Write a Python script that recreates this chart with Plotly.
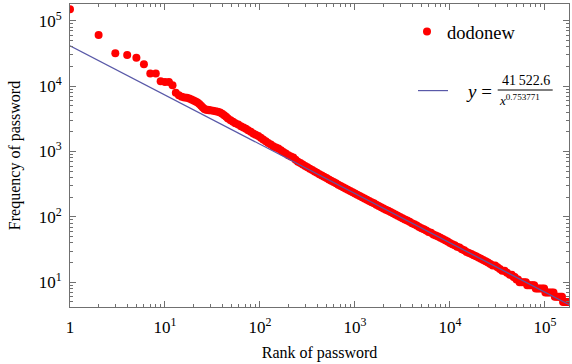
import plotly.graph_objects as go

# ---------------- data ----------------
ranks = [1, 2, 3, 4, 5, 6, 7, 8, 9, 10, 11, 12,
         13, 14, 15, 16, 17, 18, 19, 20, 21, 22, 23, 24, 25, 26, 27, 28, 29, 30,
         32, 34, 36, 38, 40, 42, 44, 46, 49, 52, 55, 59, 63, 67, 71, 75, 80, 85, 90, 96,
         102, 108, 115, 122, 130, 138, 147, 156, 166, 176, 187, 199, 211,
         224, 237, 251, 266, 282, 299, 316, 335, 355, 376, 398, 422, 447, 473, 501, 531,
         562, 596, 631, 668, 708, 750, 794, 841, 891, 944,
         1000, 1059, 1122, 1189, 1259, 1334, 1413, 1496, 1585, 1679, 1778, 1884, 1995, 2113,
         2239, 2371, 2512, 2661, 2818, 2985, 3162, 3350, 3548, 3758, 3981, 4217, 4467, 4732,
         5012, 5309, 5623, 5957, 6310, 6683, 7079, 7499, 7943, 8414, 8913, 9441,
         10000, 10593, 11220, 11885, 12589, 13335, 14125, 14962, 15849, 16788, 17783, 18836,
         19953, 21135, 22387, 23714, 25119, 26607, 28184, 29854, 31623, 33497, 35481, 37584,
         39811, 42658, 44668, 46774, 48000, 50119, 52000,
         54000, 57000, 60000, 63000,
         65000, 68000, 71000, 74000, 77000,
         80000, 84000, 88000, 93000, 98000,
         101000, 106000, 111000, 117000, 123000,
         127000, 133000, 139000, 145000, 151000,
         155000, 162000, 169000, 176000, 183000]
frequencies = [149600, 60400, 31700, 29800, 27100, 21700, 15600, 15600, 11900, 11600, 11600, 10300,
               7900, 7280, 6860, 6710, 6620, 6480, 6260, 6040, 5830, 5620, 5350, 5030, 4720, 4450, 4370, 4340, 4290, 4260,
               4190, 4140, 4070, 3950, 3790, 3590, 3400, 3200, 3010, 2840, 2710, 2590, 2440, 2330, 2220, 2120, 2000, 1890, 1800, 1720,
               1620, 1530, 1440, 1350, 1280, 1200, 1150, 1110, 1050, 986, 930, 878, 840,
               809, 750, 700, 668, 635, 603, 575, 546, 520, 495, 472, 450, 430, 410, 392, 374,
               357, 341, 326, 311, 297, 284, 272, 260, 249, 238,
               228, 218, 209, 200, 191, 183, 175, 168, 161, 154, 147, 141, 135, 129,
               124, 119, 114, 109, 104, 100, 95, 91, 88, 84, 80, 77, 74, 70,
               67, 65, 62, 59, 57, 54, 52, 50, 48, 46, 44, 42,
               40, 38, 37, 35, 34, 32, 31, 29, 28, 27, 26, 25,
               24, 23, 22, 21, 20, 19, 18, 18, 17, 16, 15, 15,
               14, 13, 13, 12, 12, 11, 11,
               10, 10, 10, 10,
               9, 9, 9, 9, 9,
               8, 8, 8, 8, 8,
               7, 7, 7, 7, 7,
               6, 6, 6, 6, 6,
               5, 5, 5, 5, 5]

fit_coefficient = 41522.6
fit_exponent = 0.753771
fit_x = [1, 200000]

x_tick_vals = [1, 10, 100, 1000, 10000, 100000]
x_tick_text = ["1", "10<sup>1</sup>", "10<sup>2</sup>", "10<sup>3</sup>", "10<sup>4</sup>", "10<sup>5</sup>"]
y_tick_vals = [10, 100, 1000, 10000, 100000]
y_tick_text = ["10<sup>1</sup>", "10<sup>2</sup>", "10<sup>3</sup>", "10<sup>4</sup>", "10<sup>5</sup>"]

series_name = "dodonew"
x_title = "Rank of password"
y_title = "Frequency of password"

# ---------------- figure ----------------
W, H = 572, 364
ML, MR, MT, MB = 70, 3, 4, 57
FONT = "Liberation Serif"
AXIS_GREY = "#707070"
LINE_BLUE = "#5959a8"


def px_x(p):
    return (p - ML) / (W - ML - MR)


def px_y(p):
    return (H - MB - p) / (H - MT - MB)


fit_y = [fit_coefficient / (v ** fit_exponent) for v in fit_x]

fig = go.Figure()
fig.add_trace(go.Scatter(
    x=ranks, y=frequencies, mode="markers", name=series_name,
    marker=dict(color="#ff0000", size=8, line=dict(width=0)),
    legend="legend",
))
fig.add_trace(go.Scatter(
    x=fit_x, y=fit_y, mode="lines", name=" ",
    line=dict(color=LINE_BLUE, width=1.2),
    legend="legend2",
))

axis_common = dict(
    type="log", showgrid=False, zeroline=False, automargin=False,
    showline=True, linecolor=AXIS_GREY, linewidth=1, mirror="allticks",
    ticks="inside", ticklen=6, tickwidth=1, tickcolor=AXIS_GREY,
    tickfont=dict(family=FONT, size=17, color="black"),
    minor=dict(ticks="inside", ticklen=3, tickwidth=1, tickcolor=AXIS_GREY, dtick="D1", showgrid=False),
)

fig.update_layout(
    width=W, height=H,
    margin=dict(l=ML, r=MR, t=MT, b=MB),
    paper_bgcolor="white", plot_bgcolor="white",
    font=dict(family=FONT, color="black"),
    xaxis=dict(axis_common, range=[0, 5.253], tickvals=x_tick_vals, ticktext=x_tick_text,
               ticklabelstandoff=5,
               title=dict(text=x_title, font=dict(family=FONT, size=16), standoff=10)),
    yaxis=dict(axis_common, range=[0.622, 5.256], tickvals=y_tick_vals, ticktext=y_tick_text,
               ticklabelstandoff=4,
               title=dict(text=y_title, font=dict(family=FONT, size=16), standoff=14)),
    legend=dict(x=px_x(407), y=px_y(32), xanchor="left", yanchor="middle",
                bgcolor="rgba(0,0,0,0)", font=dict(family=FONT, size=18.5)),
    legend2=dict(x=px_x(413), y=px_y(91), xanchor="left", yanchor="middle",
                 bgcolor="rgba(0,0,0,0)", font=dict(family=FONT, size=14)),
    showlegend=True,
)

fig.add_annotation(x=px_x(479), y=px_y(91), xref="paper", yref="paper",
                   xanchor="center", yanchor="middle",
                   text="<i>y</i> =", showarrow=False,
                   font=dict(family=FONT, size=19, color="black"))
fig.add_annotation(x=px_x(525.5), y=px_y(81), xref="paper", yref="paper",
                   xanchor="center", yanchor="middle",
                   text="41\u2009522.6", showarrow=False,
                   font=dict(family=FONT, size=14, color="black"))
fig.add_annotation(x=px_x(519), y=px_y(100), xref="paper", yref="paper",
                   xanchor="center", yanchor="middle",
                   text="<i>x</i><sup>0.753771</sup>", showarrow=False,
                   font=dict(family=FONT, size=13, color="black"))
fig.add_shape(type="line", xref="paper", yref="paper",
              x0=px_x(497.7), x1=px_x(552.7), y0=px_y(90), y1=px_y(90),
              line=dict(color="black", width=1))

fig.write_html("out.html", config={"displayModeBar": False},
               post_script="document.body.style.margin='0px';document.body.style.overflow='hidden';")
